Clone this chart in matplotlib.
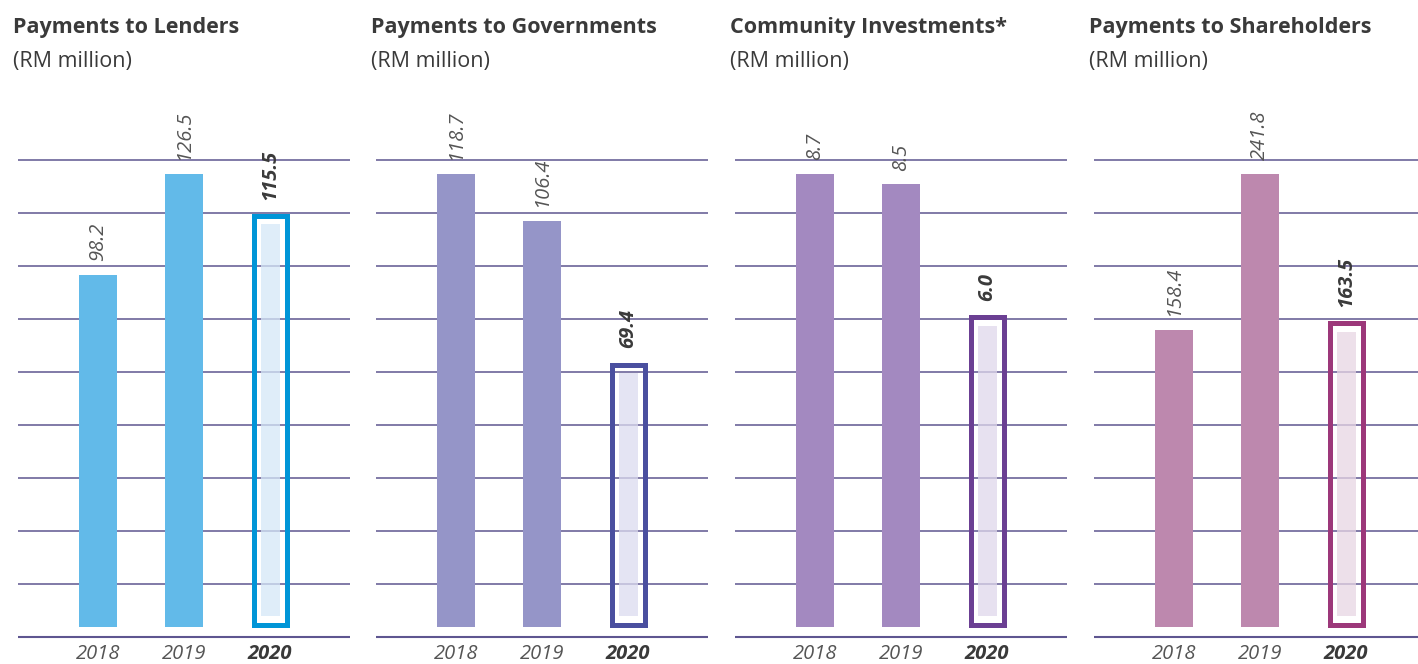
import matplotlib
matplotlib.use("Agg")
import matplotlib.pyplot as plt

plt.rcParams['font.family'] = ['Open Sans', 'DejaVu Sans']

# ---- data -------------------------------------------------------------
years = ["2018", "2019", "2020"]
titles = ["Payments to Lenders", "Payments to Governments",
          "Community Investments*", "Payments to Shareholders"]
subtitle = "(RM million)"
lenders = [98.2, 126.5, 115.5]
governments = [118.7, 106.4, 69.4]
community = [8.7, 8.5, 6.0]
shareholders = [158.4, 241.8, 163.5]
value_labels = [["98.2", "126.5", "115.5"],
                ["118.7", "106.4", "69.4"],
                ["8.7", "8.5", "6.0"],
                ["158.4", "241.8", "163.5"]]
series = [lenders, governments, community, shareholders]

# ---- styling ------------------------------------------------------------
bar_colors = ["#62bae9", "#9595c8", "#a389c0", "#bd88ae"]
frame_colors = ["#0095d7", "#4a4f9f", "#6b3f93", "#9c387a"]
fill_colors = ["#d5e8f7", "#dcdcef", "#dfd8eb", "#e8d6e4"]
grid_color = "#5e5690"
text_dark = "#3a3a3a"
text_grey = "#555555"

W, H = 1418, 664
fig = plt.figure(figsize=(W / 100, H / 100), dpi=100)

panel_left = [18, 376, 735, 1094]
panel_width = [332, 332, 332, 324]
axes_top_px, axes_bot_px = 160, 637
baseline_px = 627          # where value 0 sits
max_bar_px = 453           # height of the tallest bar in each panel
step_px = 86               # distance between bar centres
first_centre_px = 80       # first bar centre from the panel's left edge
bar_w_px = 38

for i in range(4):
    vals = series[i]
    vmax = max(vals)
    per_px = vmax / max_bar_px
    left = panel_left[i]
    wpx = panel_width[i]
    ax = fig.add_axes([left / W, (H - axes_bot_px) / H,
                       wpx / W, (axes_bot_px - axes_top_px) / H])
    ax.set_xlim(-first_centre_px / step_px, (wpx - first_centre_px) / step_px)
    ax.set_ylim(-(axes_bot_px - baseline_px) * per_px,
                (baseline_px - axes_top_px) * per_px)
    ax.axis("off")

    # horizontal rules
    n_lines = 10
    for k in range(n_lines):
        f = k / (n_lines - 1)
        ax.plot([0, 1], [f, f], transform=ax.transAxes, color=grid_color,
                lw=1.5 if k == 0 else 1.1, zorder=2, solid_capstyle="butt",
                clip_on=False)

    bw = bar_w_px / step_px
    x = list(range(len(years)))
    # solid bars for earlier years
    ax.bar(x[:2], vals[:2], width=bw, color=bar_colors[i], zorder=3,
           linewidth=0)

    # highlighted current year: outlined frame with a pale inner fill
    v = vals[2]
    lw_px = 5
    inset_x = (lw_px / 2) / step_px
    inset_y = (lw_px / 2) * per_px
    ax.bar(x[2], v - 2 * inset_y, bottom=inset_y, width=bw - 2 * inset_x,
           fill=False, edgecolor=frame_colors[i], linewidth=lw_px * 0.72,
           zorder=3, joinstyle="miter")
    gap_px = 11
    ax.bar(x[2], v - 2 * gap_px * per_px, bottom=gap_px * per_px,
           width=19 / step_px, color=fill_colors[i], alpha=0.75,
           linewidth=0, zorder=2.5)

    # value labels
    for j, val in enumerate(vals):
        bold = j == 2
        ax.annotate(value_labels[i][j], (x[j], val), xytext=(0, 10),
                    textcoords="offset points", rotation=90,
                    ha="center", va="bottom", fontsize=14.5, style="italic",
                    fontweight="bold" if bold else "normal",
                    color=text_dark if bold else text_grey)

    # year labels
    for j, yr in enumerate(years):
        bold = j == 2
        xc = (left + first_centre_px + j * step_px) / W
        fig.text(xc, (H - 659) / H, yr, ha="center", va="baseline",
                 fontsize=14.5, style="italic",
                 fontweight="bold" if bold else "normal",
                 color=text_dark if bold else text_grey)

    # titles
    fig.text((left - 5) / W, (H - 33) / H, titles[i], ha="left",
             va="baseline", fontsize=15.5, fontweight="bold", color=text_dark)
    fig.text((left - 5) / W, (H - 67) / H, subtitle, ha="left",
             va="baseline", fontsize=15.5, color=text_dark)

fig.savefig("out.png", dpi=100, facecolor="white")
